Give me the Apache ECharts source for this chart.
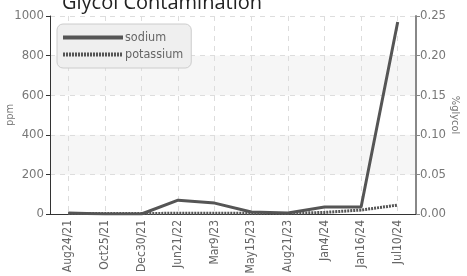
<!DOCTYPE html>
<html>
<head>
<meta charset="utf-8">
<script src="https://cdn.jsdelivr.net/npm/echarts@6/dist/echarts.min.js"></script>
<style>
  html, body { margin: 0; padding: 0; background: #fff; }
  #chart { width: 467px; height: 276px; }
</style>
</head>
<body>
<div id="chart"></div>
<script>
const dates = ["Aug24/21", "Oct25/21", "Dec30/21", "Jun21/22", "Mar9/23",
  "May15/23", "Aug21/23", "Jan4/24", "Jan16/24", "Jul10/24"];
const sodium = [5, 0, 0, 70, 55, 10, 5, 35, 35, 970];
const potassium = [2, 2, 2, 4, 4, 3, 3, 8, 20, 45];

const labelFont = '"DejaVu Sans Condensed", "Liberation Sans Narrow", Roboto, sans-serif';
const chart = echarts.init(document.getElementById("chart"));

chart.setOption({
  animation: false,
  title: {
    text: "Glycol Contamination",
    left: 57,
    top: -12,
    textStyle: { fontFamily: "Open Sans", fontSize: 20, fontWeight: "normal", color: "#222" },
  },
  legend: {
    orient: "vertical",
    left: 57,
    top: 24,
    padding: [7, 8, 7, 4],
    itemGap: 4,
    itemWidth: 60,
    itemHeight: 8,
    backgroundColor: "#efefef",
    borderColor: "#ccc",
    borderWidth: 1,
    borderRadius: 6,
    itemStyle: { opacity: 0 },
    lineStyle: { width: 4 },
    textStyle: { fontFamily: labelFont, fontSize: 12.5, color: "#666", padding: [0, 0, 0, -3] },
    data: ["sodium", "potassium"],
  },
  grid: { left: 50, right: 51, top: 16, bottom: 62, outerBoundsMode: "none", containLabel: false },
  xAxis: {
    type: "category",
    data: dates,
    boundaryGap: true,
    axisLine: { lineStyle: { color: "#333", width: 1 } },
    axisTick: { alignWithLabel: true, length: 4, lineStyle: { color: "#333" } },
    axisLabel: { rotate: 90, fontFamily: labelFont, fontSize: 12, color: "#666", margin: 6 },
    splitLine: { show: true, alignWithLabel: true, lineStyle: { type: [5, 5], color: "#ddd" } },
  },
  yAxis: [
    {
      type: "value",
      name: "ppm",
      nameLocation: "middle",
      nameGap: 34,
      nameMoveOverlap: false,
      nameTextStyle: { fontFamily: labelFont, fontSize: 11, color: "#777" },
      min: 0,
      max: 1000,
      interval: 200,
      axisLine: { show: true, lineStyle: { color: "#333" } },
      axisTick: { show: true, length: 4, lineStyle: { color: "#333" } },
      axisLabel: {
        fontFamily: labelFont, fontSize: 13, color: "#777", margin: 6,
        formatter: (v) => String(v),
      },
      splitLine: { lineStyle: { type: [5, 5], color: "#ddd" } },
      splitArea: { show: true, areaStyle: { color: ["#fff", "#f6f6f6"] } },
    },
    {
      type: "value",
      name: "%glycol",
      nameLocation: "middle",
      nameRotate: -90,
      nameGap: 33,
      nameMoveOverlap: false,
      nameTextStyle: { fontFamily: labelFont, fontSize: 11, color: "#777" },
      min: 0,
      max: 0.25,
      interval: 0.05,
      axisLine: { show: true, lineStyle: { color: "#888", width: 2 } },
      axisTick: { show: true, length: 4, lineStyle: { color: "#888" } },
      axisLabel: {
        fontFamily: labelFont, fontSize: 13, color: "#777", margin: 4,
        formatter: (v) => v.toFixed(2),
      },
      splitLine: { show: false },
    },
  ],
  series: [
    {
      name: "sodium",
      type: "line",
      data: sodium,
      symbol: "none",
      color: "#555",
      lineStyle: { width: 3, color: "#555" },
    },
    {
      name: "potassium",
      type: "line",
      data: potassium,
      symbol: "none",
      color: "#555",
      lineStyle: { width: 3, color: "#555", type: [2, 1] },
    },
  ],
});
</script>
</body>
</html>
